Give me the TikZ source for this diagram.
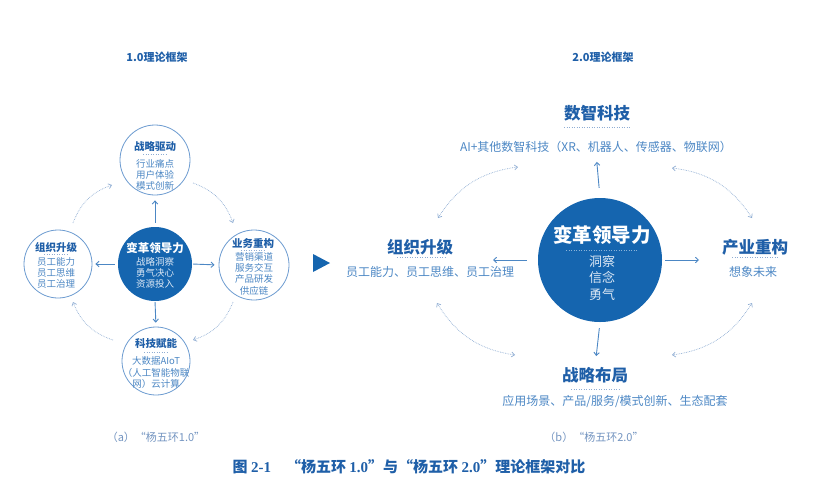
\documentclass[tikz,border=0pt]{standalone}
\usepackage{fontspec}
\setmainfont{Noto Sans CJK SC}
\newfontfamily\capserif{Liberation Serif}
\usetikzlibrary{arrows.meta,calc}
\definecolor{dblue}{HTML}{1565AF}
\definecolor{tblue}{HTML}{1F5FA8}
\definecolor{lblue}{HTML}{4C87C4}
\definecolor{cline}{HTML}{6C9BD0}
\definecolor{dotc}{HTML}{8FADD3}
\definecolor{capc}{HTML}{7394C0}
\definecolor{wtxt}{HTML}{DCE8F5}
\begin{document}
\begin{tikzpicture}[x=1pt,y=-1pt,
  ring/.style={circle, draw=cline, line width=0.8pt, inner sep=0pt, fill=white},
  hub/.style={circle, fill=dblue, inner sep=0pt},
  ttl/.style={font=\bfseries\fontsize{10.5}{12}\selectfont, text=tblue, inner sep=0pt},
  bdy/.style={font=\fontsize{9.5}{11.3}\selectfont, text=lblue, align=center, inner sep=0pt},
  ttlb/.style={font=\bfseries\fontsize{16.5}{18}\selectfont, text=tblue, inner sep=0pt},
  bdyb/.style={font=\fontsize{12}{14}\selectfont, text=lblue, align=center, inner sep=0pt},
  head/.style={font=\bfseries\fontsize{11}{13}\selectfont, text=tblue, inner sep=0pt},
  captext/.style={font=\fontsize{11}{13}\selectfont, text=capc, inner sep=0pt},
  arr/.style={draw=lblue, line width=0.9pt, -{Straight Barb[length=3pt,width=5.5pt]}},
  darr/.style={draw=dotc, line width=0.7pt, densely dotted, -{Straight Barb[length=3pt,width=5pt]}},
  ddarr/.style={draw=dotc, line width=0.7pt, densely dotted, {Straight Barb[length=3pt,width=5pt]}-{Straight Barb[length=3pt,width=5pt]}},
  uline/.style={draw=dotc, line width=0.5pt, dotted}]
\useasboundingbox (0,0) rectangle (832,488);

% ---------------- headings ----------------
\node[head] (h1) at (157,57) {1.0理论框架};
\node[head] (h2) at (603,57) {2.0理论框架};

% ---------------- left diagram ----------------
\node[ring, minimum size=70pt] (T) at (155,160) {};
\node[ttl] (Tt) at (155,147) {战略驱动};
\draw[uline] (143,154) -- (167,154);
\node[bdy] (Tb) at (155,175) {行业痛点\\用户体验\\模式创新};

\node[ring, minimum size=68pt] (L) at (58,264) {};
\node[ttl] (Lt) at (56,247) {组织升级};
\draw[uline] (44,254) -- (68,254);
\node[bdy] (Lb) at (56,273) {员工能力\\员工思维\\员工治理};

\node[ring, minimum size=70pt] (R) at (254,265) {};
\node[ttl] (Rt) at (253,243) {业务重构};
\draw[uline] (241,250) -- (265,250);
\node[bdy] (Rb) at (254,273.5) {营销渠道\\服务交互\\产品研发\\供应链};

\node[ring, minimum size=68pt] (B) at (156,361) {};
\node[ttl] (Bt) at (156,343) {科技赋能};
\draw[uline] (144,352) -- (168,352);
\node[bdy] (Bb) at (156,372.5) {大数据AIoT\\（人工智能物联\\网）云计算};

\node[hub, minimum size=74pt] (C) at (155,264) {};
\node[ttl, text=white, font=\bfseries\fontsize{11.5}{13}\selectfont] (Ct) at (155,248) {变革领导力};
\node[bdy, text=wtxt] (Cb) at (155,273) {战略洞察\\勇气决心\\资源投入};

\draw[arr, shorten <=4pt, shorten >=5pt] (C.north) -- (T.south);
\draw[arr, shorten <=3pt, shorten >=3pt] (C.west) -- (L.east);
\draw[arr, shorten <=1pt, shorten >=4pt] (C.east) -- (R.west);
\draw[arr, shorten <=1pt, shorten >=4pt] (C.south) -- (B.north);

\coordinate (a1s) at (73,223);  \coordinate (a1e) at (112,185);
\coordinate (a2s) at (193,183); \coordinate (a2e) at (233,223);
\coordinate (a3s) at (233,302); \coordinate (a3e) at (193,340);
\coordinate (a4s) at (113,340); \coordinate (a4e) at (73,302);
\draw[darr] (a1s) to[bend left=25] (a1e);
\draw[darr] (a2s) to[bend left=25] (a2e);
\draw[darr] (a3s) to[bend left=25] (a3e);
\draw[darr] (a4s) to[bend left=25] (a4e);

\node[captext] (capa) at (156,437) {（a）“杨五环1.0”};

% ---------------- middle triangle ----------------
\fill[dblue] (313,254) -- (313,272) -- (330,263) -- cycle;

% ---------------- right diagram ----------------
\node[hub, minimum size=124pt] (C2) at (600,260) {};
\node[ttlb, text=white, font=\bfseries\fontsize{19.5}{21}\selectfont] (C2t) at (602,235) {变革领导力};
\draw[draw=wtxt!60!dblue, line width=0.5pt, dotted] (566,250) -- (638,250);
\node[font=\fontsize{13}{16.5}\selectfont, text=wtxt, align=center, inner sep=0pt] (C2b) at (602,278) {洞察\\信念\\勇气};

\node[ttlb] (St) at (597,113) {数智科技};
\draw[uline] (564,127) -- (631,127);
\node[bdyb] (Sb) at (596,147) {AI+其他数智科技（XR、机器人、传感器、物联网）};

\node[ttlb] (Ot) at (420,247) {组织升级};
\draw[uline] (397,257) -- (445,257);
\node[bdyb] (Ob) at (430,272) {员工能力、员工思维、员工治理};

\node[ttlb] (It) at (755,247) {产业重构};
\draw[uline] (732,257) -- (778,257);
\node[bdyb] (Ib) at (753,272) {想象未来};

\node[ttlb] (Pt) at (595,375) {战略布局};
\draw[uline] (571,389) -- (620,389);
\node[bdyb] (Pb) at (615,401) {应用场景、产品/服务/模式创新、生态配套};

\coordinate (la) at (493,260);
\coordinate (ra) at (699,260);
\draw[arr, shorten <=10pt, shorten >=9pt] (C2.north) -- (Sb.south);
\draw[arr, shorten <=6pt, shorten >=11pt] (C2.south) -- (Pt.north);
\draw[arr, shorten <=11pt] (C2.west) -- (la);
\draw[arr, shorten <=3pt] (C2.east) -- (ra);

\coordinate (b1s) at (438,218); \coordinate (b1e) at (518,167);
\coordinate (b2s) at (672,168); \coordinate (b2e) at (752,218);
\coordinate (b3s) at (752,303); \coordinate (b3e) at (672,355);
\coordinate (b4s) at (515,355); \coordinate (b4e) at (437,303);
\draw[ddarr] (b1s) to[bend left=25] (b1e);
\draw[ddarr] (b2s) to[bend left=25] (b2e);
\draw[ddarr] (b3s) to[bend left=25] (b3e);
\draw[ddarr] (b4s) to[bend left=25] (b4e);

\node[captext] (capb) at (594,437) {（b）“杨五环2.0”};

% ---------------- figure caption ----------------
\node[font=\bfseries\fontsize{15}{17}\selectfont, text=tblue, inner sep=0pt] (fig) at (409,467)
  {图 {\capserif\bfseries 2-1}\hspace{1em}“杨五环 {\capserif\bfseries 1.0}”与“杨五环 {\capserif\bfseries 2.0}”理论框架对比};
\end{tikzpicture}
\end{document}
